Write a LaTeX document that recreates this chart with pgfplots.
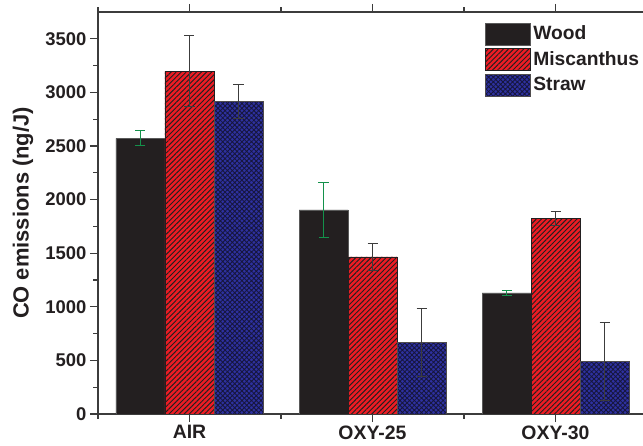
\documentclass[border=0pt]{standalone}
\usepackage{pgfplots}
\pgfplotsset{compat=1.18}
\usepackage{fontspec}
\setmainfont{Liberation Sans}
\usetikzlibrary{patterns,patterns.meta}

\definecolor{woodc}{RGB}{35,31,32}
\definecolor{miscc}{RGB}{237,28,36}
\definecolor{strawc}{RGB}{46,49,160}
\definecolor{navy}{RGB}{22,22,60}
\definecolor{errgreen}{RGB}{20,145,75}
\definecolor{errgray}{RGB}{60,60,60}
\definecolor{axc}{RGB}{60,60,60}

\begin{document}
\begin{tikzpicture}
\begin{axis}[
    scale only axis,
    width=549bp, height=402bp,
    at={(0,0)}, anchor=south west,
    xmin=-0.5, xmax=2.5,
    ymin=0, ymax=3750,
    ybar=0pt, bar width=49bp,
    xtick={0,1,2},
    xticklabels={AIR,OXY-25,OXY-30},
    minor xtick={-0.5,0.5,1.5,2.5},
    ytick={0,500,...,3500},
    minor ytick={250,750,...,3250},
    tick align=outside,
    major tick length=8bp,
    minor tick length=4.5bp,
    every tick/.style={axc, line width=1.1bp},
    every minor tick/.style={axc, line width=1.1bp},
    axis line style={axc, line width=1.3bp},
    /pgf/number format/assume math mode=true,
    /pgf/number format/set thousands separator={},
    scaled y ticks=false,
    yticklabel style={font=\fontsize{18.5}{20}\selectfont\bfseries, text=woodc},
    xticklabel style={font=\fontsize{19.5}{22}\selectfont\bfseries, text=woodc},
    ylabel={CO emissions (ng/J)},
    every axis y label/.style={at={(axis description cs:-0.1366,0.5)}, rotate=90, anchor=center,
        font=\fontsize{22}{24}\selectfont\bfseries, text=woodc},
    legend style={draw=none, fill=none, at={(0.705,0.975)}, anchor=north west,
        inner sep=0pt, row sep=1.5bp,
        font=\fontsize{19.3}{22}\selectfont\bfseries, text=woodc,
        nodes={inner sep=2.5bp, text height=15bp, text depth=4bp}},
    legend cell align=left,
    legend image code/.code={\draw[#1] (0bp,-11bp) rectangle (45bp,11bp);},
    error bars/y dir=both,
    error bars/y explicit,
]
\addplot[fill=woodc, draw=gray!70!black, line width=0.6bp,
    error bars/error bar style={errgreen, line width=1bp},
    error bars/error mark options={rotate=90, errgreen, mark size=5bp, line width=1bp}]
    coordinates {(0,2572) +- (0,70) (1,1903) +- (0,260) (2,1129) +- (0,22)};
\addlegendentry{Wood}
\addplot[fill=miscc, draw=woodc, line width=0.6bp,
    postaction={pattern={Lines[angle=45,distance=3.6pt,line width=0.95pt]}, pattern color=woodc},
    error bars/error bar style={errgray, line width=1bp},
    error bars/error mark options={rotate=90, errgray, mark size=5bp, line width=1bp}]
    coordinates {(0,3198) +- (0,330) (1,1465) +- (0,130) (2,1828) +- (0,65)};
\addlegendentry{Miscanthus}
\addplot[fill=strawc, draw=woodc!80, line width=0.6bp,
    postaction={pattern={Hatch[angle=45,distance=3.4pt,line width=0.85pt]}, pattern color=navy},
    error bars/error bar style={errgray, line width=1bp},
    error bars/error mark options={rotate=90, errgray, mark size=5bp, line width=1bp}]
    coordinates {(0,2918) +- (0,158) (1,665) +- (0,318) (2,490) +- (0,360)};
\addlegendentry{Straw}
\end{axis}
\pgfresetboundingbox
\path[use as bounding box] (-98bp,-32bp) rectangle (545bp,414bp);
\end{tikzpicture}
\end{document}
